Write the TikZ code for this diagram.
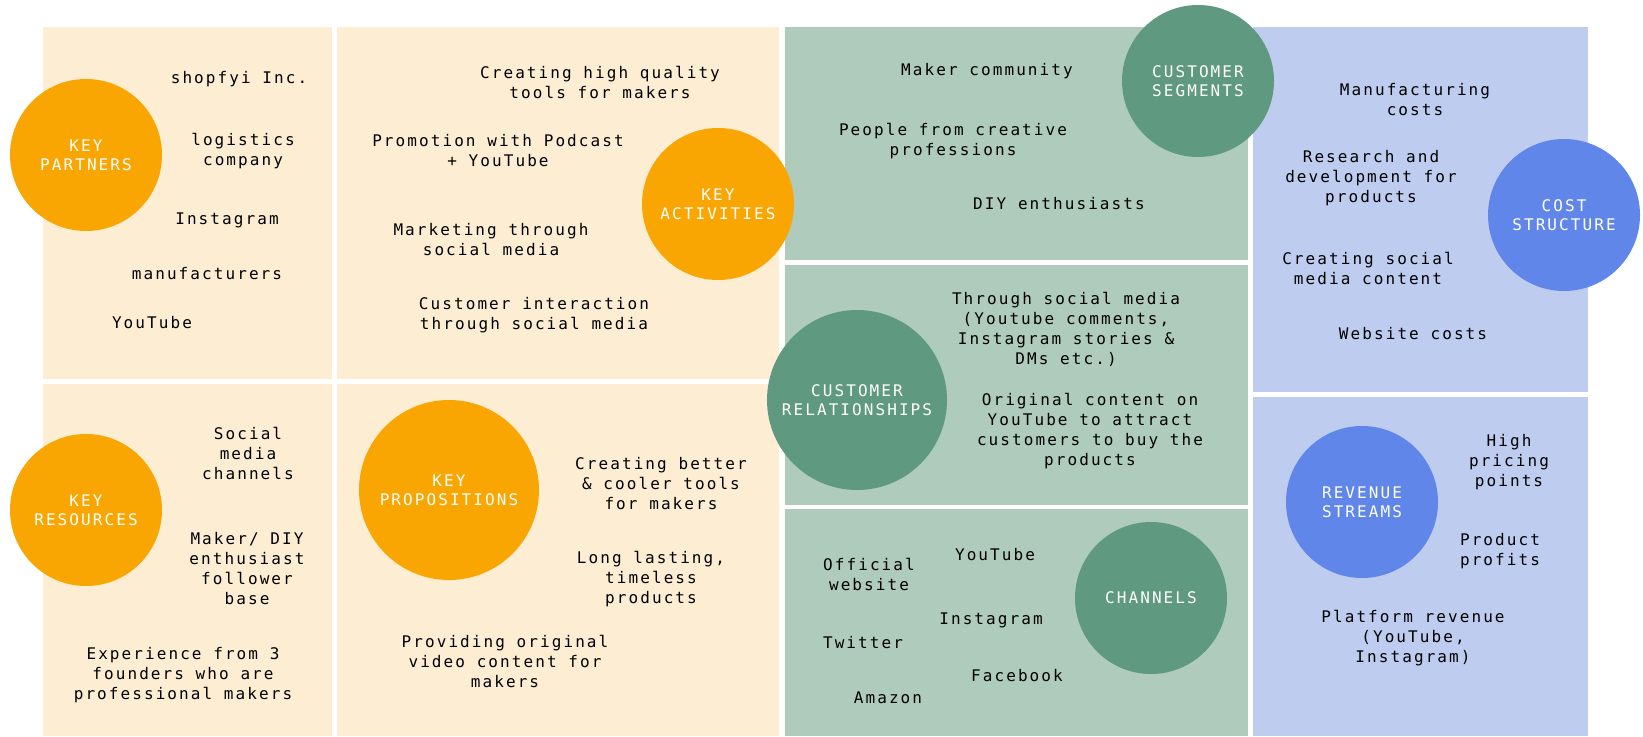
\documentclass[tikz,border=0pt]{standalone}
\usepackage{fontspec}
\usepackage{xcolor}
\usepackage{tikz}
\newfontfamily\canvasfont[LetterSpace=13]{DejaVu Sans Mono}
\definecolor{cream}{HTML}{FDEDD3}
\definecolor{orng}{HTML}{F9A602}
\definecolor{sage}{HTML}{AECBBC}
\definecolor{pine}{HTML}{5F9980}
\definecolor{sky}{HTML}{BDCCEF}
\definecolor{royal}{HTML}{6186E9}

\begin{document}
\begin{tikzpicture}[x=1pt, y=-1pt,
    txt/.style={align=center, inner sep=0pt, font=\canvasfont\fontsize{16}{20}\selectfont},
    blob/.style={circle, inner sep=0pt, minimum size=152pt, align=center, text=white,
      font=\canvasfont\fontsize{16}{19}\selectfont},
    bigblob/.style={blob, minimum size=180pt}]
            \useasboundingbox[fill=white] (0,0) rectangle (1643,736);

            % Panels
            \fill[cream] (43,27) rectangle (332,379);
            \fill[cream] (337,27) rectangle (779,379);
            \fill[cream] (43,384) rectangle (332,736);
            \fill[cream] (337,384) rectangle (779,736);
            \fill[sage] (785,27) rectangle (1248,260);
            \fill[sage] (785,265) rectangle (1248,505);
            \fill[sage] (785,509) rectangle (1248,736);
            \fill[sky] (1253,27) rectangle (1588,392);
            \fill[sky] (1253,397) rectangle (1588,736);

            % Circles
            \node[blob, fill=orng] (partners) at (86,155) {KEY\\PARTNERS};
            \node[blob, fill=orng] (activities) at (718,204) {KEY\\ACTIVITIES};
            \node[blob, fill=orng] (resources) at (86,510) {KEY\\RESOURCES};
            \node[bigblob, fill=orng] (propositions) at (449,490) {KEY\\PROPOSITIONS};
            \node[blob, fill=pine] (segments) at (1198,81) {CUSTOMER\\SEGMENTS};
            \node[bigblob, fill=pine] (relations) at (857,400) {CUSTOMER\\RELATIONSHIPS};
            \node[blob, fill=pine] (channels) at (1151,598) {CHANNELS};
            \node[blob, fill=royal] (cost) at (1564,215) {COST\\STRUCTURE};
            \node[blob, fill=royal] (revenue) at (1362,502) {REVENUE\\STREAMS};

            % Key partners
            \node[txt] (kp1) at (239,79) {shopfyi Inc.};
            \node[txt] (kp2) at (243,151) {logistics\\company};
            \node[txt] (kp3) at (227,220) {Instagram};
            \node[txt] (kp4) at (207,274) {manufacturers};
            \node[txt] (kp5) at (152,323) {YouTube};

            % Key activities
            \node[txt] (ka1) at (600,82) {Creating high quality\\tools for makers};
            \node[txt] (ka2) at (498,151) {Promotion with Podcast\\+ YouTube};
            \node[txt] (ka3) at (491,240) {Marketing through\\social media};
            \node[txt] (ka4) at (534,315) {Customer interaction\\through social media};

            % Key resources
            \node[txt] (kr1) at (248,453) {Social\\media\\channels};
            \node[txt] (kr2) at (247,569) {Maker/ DIY\\enthusiast\\follower\\base};
            \node[txt] (kr3) at (183,675) {Experience from 3\\founders who are\\professional makers};

            % Key propositions
            \node[txt] (pr1) at (661,484) {Creating better\\\& cooler tools\\for makers};
            \node[txt] (pr2) at (651,579) {Long lasting,\\timeless\\products};
            \node[txt] (pr3) at (505,661) {Providing original\\video content for\\makers};

            % Customer segments
            \node[txt] (cs1) at (987,71) {Maker community};
            \node[txt] (cs2) at (953,141) {People from creative\\professions};
            \node[txt] (cs3) at (1059,204) {DIY enthusiasts};

            % Customer relationships
            \node[txt] (cr1) at (1066,329) {Through social media\\(Youtube comments,\\Instagram stories \&\\DMs etc.)};
            \node[txt] (cr2) at (1090,431) {Original content on\\YouTube to attract\\customers to buy the\\products};

            % Channels
            \node[txt] (ch1) at (869,574) {Official\\website};
            \node[txt] (ch2) at (995,555) {YouTube};
            \node[txt] (ch3) at (991,620) {Instagram};
            \node[txt] (ch4) at (863,643) {Twitter};
            \node[txt] (ch5) at (1017,676) {Facebook};
            \node[txt] (ch6) at (888,698) {Amazon};

            % Cost structure
            \node[txt] (co1) at (1415,100) {Manufacturing\\costs};
            \node[txt] (co2) at (1371,178) {Research and\\development for\\products};
            \node[txt] (co3) at (1368,268) {Creating social\\media content};
            \node[txt] (co4) at (1413,334) {Website costs};

            % Revenue streams
            \node[txt] (rs1) at (1509,462) {High\\pricing\\points};
            \node[txt] (rs2) at (1500,551) {Product\\profits};
            \node[txt] (rs3) at (1413,638) {Platform revenue\\(YouTube,\\Instagram)};
        \end{tikzpicture}
\end{document}
